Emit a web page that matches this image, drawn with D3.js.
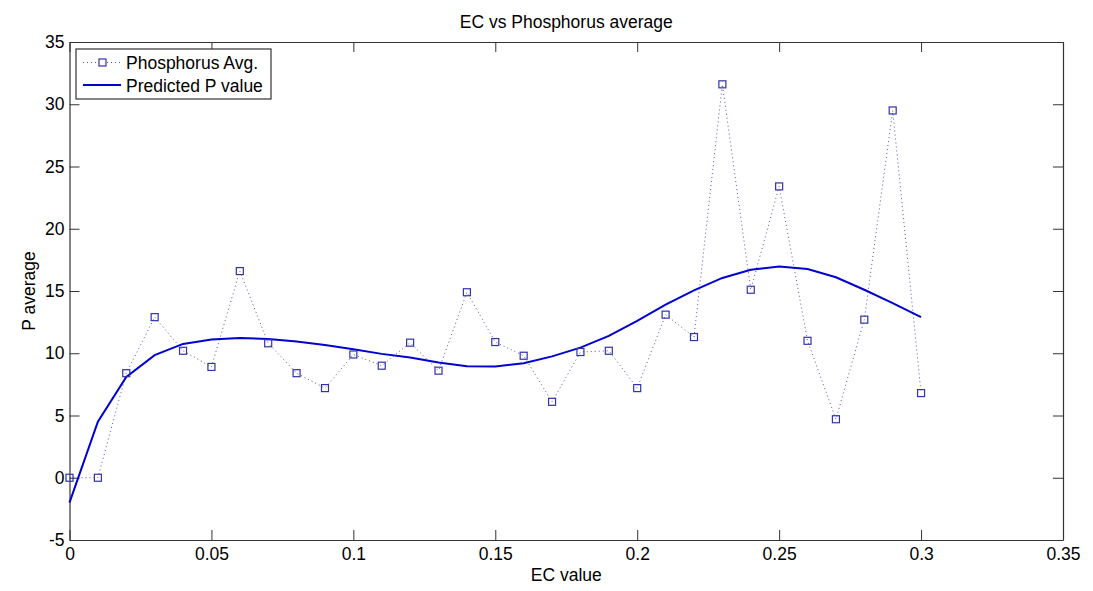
<!DOCTYPE html>
<html>
<head>
<meta charset="utf-8">
<script src="https://cdn.jsdelivr.net/npm/d3@7"></script>
<style>
  body { margin: 0; background: #fff; }
  text { font-family: "Liberation Sans", Arial, sans-serif; fill: #000; }
</style>
</head>
<body>
<div class="chart"></div>
<script>
(function() {
  // EC values (x)
  var ecValues = [0, 0.01, 0.02, 0.03, 0.04, 0.05, 0.06, 0.07, 0.08, 0.09, 0.10,
    0.11, 0.12, 0.13, 0.14, 0.15, 0.16, 0.17, 0.18, 0.19, 0.20,
    0.21, 0.22, 0.23, 0.24, 0.25, 0.26, 0.27, 0.28, 0.29, 0.30];
  // Phosphorus averages
  var phosphorusAvg = [0, 0, 8.4, 12.9, 10.2, 8.9, 16.6, 10.8, 8.4, 7.2, 9.9,
    9.0, 10.85, 8.6, 14.9, 10.9, 9.8, 6.1, 10.1, 10.2, 7.2,
    13.1, 11.3, 31.6, 15.1, 23.4, 11.0, 4.7, 12.7, 29.5, 6.8];
  // Predicted P value (fit)
  var predictedP = [-2.0, 4.5, 8.1, 9.85, 10.75, 11.1, 11.23, 11.15, 10.95, 10.67, 10.32,
    9.95, 9.65, 9.25, 8.95, 8.93, 9.2, 9.75, 10.45, 11.4, 12.6,
    13.9, 15.05, 16.05, 16.7, 16.97, 16.76, 16.1, 15.1, 14.03, 12.9];
  var xTicks = [0, 0.05, 0.1, 0.15, 0.2, 0.25, 0.3, 0.35];
  var yTicks = [-5, 0, 5, 10, 15, 20, 25, 30, 35];

  var width = 1093,
    height = 591,
    margin = {top: 42, left: 69.5, right: 30, bottom: 51};

  var svg = d3.select(".chart").append("svg")
    .attr("width", width)
    .attr("height", height);

  var x = d3.scaleLinear().domain([0, 0.35]).range([margin.left, width - margin.right]);
  var y = d3.scaleLinear().domain([-5, 35]).range([height - margin.bottom, margin.top]);

  var tickLen = 10, fontSize = 17.5;
  var plain = function(d) { return String(+d.toFixed(2)); };

  // axes (ticks inside, box on all sides)
  svg.append("g")
    .attr("transform", "translate(0," + y(-5) + ")")
    .call(d3.axisBottom(x).tickValues(xTicks).tickSizeInner(-tickLen).tickSizeOuter(0).tickPadding(8)
      .tickFormat(plain));
  svg.append("g")
    .attr("transform", "translate(0," + y(35) + ")")
    .call(d3.axisTop(x).tickValues(xTicks).tickSizeInner(-tickLen).tickSizeOuter(0).tickFormat(""));
  svg.append("g")
    .attr("transform", "translate(" + x(0) + ",0)")
    .call(d3.axisLeft(y).tickValues(yTicks).tickSizeInner(-tickLen).tickSizeOuter(0).tickPadding(5)
      .tickFormat(plain));
  svg.append("g")
    .attr("transform", "translate(" + x(0.35) + ",0)")
    .call(d3.axisRight(y).tickValues(yTicks).tickSizeInner(-tickLen).tickSizeOuter(0).tickFormat(""));

  svg.selectAll(".domain").attr("stroke", "#333").attr("stroke-width", 1.2);
  svg.selectAll(".tick line").attr("stroke", "#333");
  svg.selectAll(".tick text")
    .style("font-family", "'Liberation Sans', Arial, sans-serif")
    .style("font-size", fontSize + "px")
    .attr("fill", "#000");

  var obs = ecValues.map(function(d, i) { return {x: d, y: phosphorusAvg[i]}; });
  var pred = ecValues.map(function(d, i) { return {x: d, y: predictedP[i]}; });

  var line = d3.line()
    .x(function(d) { return x(d.x); })
    .y(function(d) { return y(d.y); });

  svg.append("path")
    .datum(obs)
    .attr("fill", "none")
    .attr("stroke", "#5555aa")
    .attr("stroke-width", 1)
    .attr("stroke-dasharray", "1,3")
    .attr("d", line);

  svg.append("path")
    .datum(pred)
    .attr("fill", "none")
    .attr("stroke", "#0000d0")
    .attr("stroke-width", 2)
    .attr("d", line);

  var ms = 7;
  svg.selectAll("rect.marker")
    .data(obs).enter()
    .append("rect")
      .attr("class", "marker")
      .attr("x", function(d) { return x(d.x) - ms/2; })
      .attr("y", function(d) { return y(d.y) - ms/2; })
      .attr("width", ms)
      .attr("height", ms)
      .attr("fill", "none")
      .attr("stroke", "#3333aa")
      .attr("stroke-width", 1.2);

  // title and labels
  svg.append("text")
    .attr("x", (x(0) + x(0.35)) / 2)
    .attr("y", 28)
    .attr("text-anchor", "middle")
    .style("font-size", "17.5px")
    .text("EC vs Phosphorus average");
  svg.append("text")
    .attr("x", (x(0) + x(0.35)) / 2)
    .attr("y", 581)
    .attr("text-anchor", "middle")
    .style("font-size", fontSize + "px")
    .text("EC value");
  svg.append("text")
    .attr("transform", "translate(35," + ((y(-5) + y(35)) / 2) + ") rotate(-90)")
    .attr("text-anchor", "middle")
    .style("font-size", fontSize + "px")
    .text("P average");

  // legend
  var lg = svg.append("g").attr("transform", "translate(76,49)");
  lg.append("rect")
    .attr("width", 195).attr("height", 50)
    .attr("fill", "#fff").attr("stroke", "#333").attr("stroke-width", 1.2);
  lg.append("line")
    .attr("x1", 7).attr("x2", 45).attr("y1", 13.5).attr("y2", 13.5)
    .attr("stroke", "#5555aa").attr("stroke-dasharray", "1,3");
  lg.append("rect")
    .attr("x", 26.5 - ms/2).attr("y", 13.5 - ms/2).attr("width", ms).attr("height", ms)
    .attr("fill", "#fff").attr("stroke", "#3333aa").attr("stroke-width", 1.2);
  lg.append("line")
    .attr("x1", 7).attr("x2", 45).attr("y1", 36).attr("y2", 36)
    .attr("stroke", "#0000d0").attr("stroke-width", 2);
  lg.append("text").attr("x", 50).attr("y", 20).style("font-size", fontSize + "px").text("Phosphorus Avg.");
  lg.append("text").attr("x", 50).attr("y", 43).style("font-size", fontSize + "px").text("Predicted P value");
})();
</script>
</body>
</html>
